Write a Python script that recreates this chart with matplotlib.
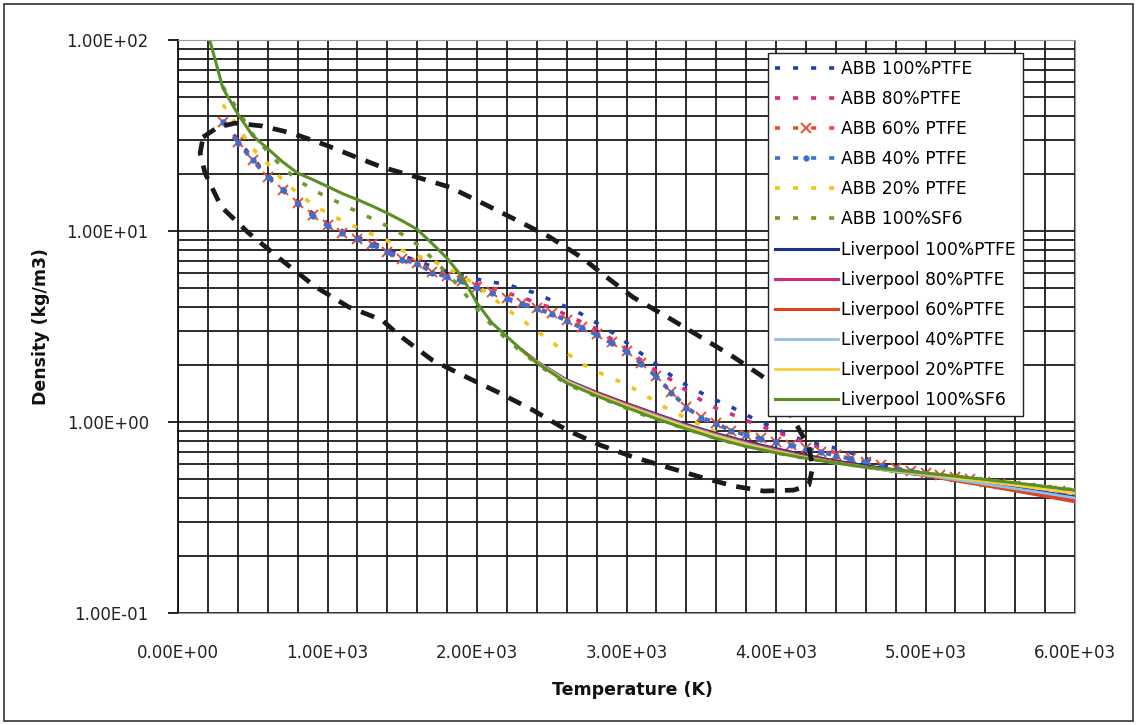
import matplotlib
matplotlib.use("Agg")
import matplotlib.pyplot as plt
from matplotlib.patches import Rectangle
from matplotlib.ticker import FixedLocator, NullFormatter

# ---------------- data ----------------
T_abb = [300, 400, 500, 600, 700, 800, 900, 1000, 1100, 1200, 1300, 1400, 1500, 1600, 1700, 1800,
         1900, 2000, 2100, 2200, 2300, 2400, 2500, 2600, 2700, 2800, 2900, 3000, 3100, 3200, 3300,
         3400, 3500, 3600, 3700, 3800, 3900, 4000, 4100, 4200, 4300, 4400, 4500, 4600, 4700, 4800,
         4900, 5000, 5100, 5200, 5300, 5400, 5500, 5600, 5700, 5800, 5900, 6000]

abb_100 = [38, 30, 24, 19.6, 16.7, 14.3, 12.4, 11.0, 10.0, 9.3, 8.7, 8.0, 7.4, 7.0, 6.5, 6.15,
           5.85, 5.6, 5.4, 5.25, 4.95, 4.72, 4.32, 4.0, 3.67, 3.3, 2.96, 2.6, 2.28, 2.0, 1.75,
           1.56, 1.42, 1.30, 1.20, 1.09, 1.0, 0.92, 0.85, 0.79, 0.76, 0.73, 0.69, 0.645, 0.60, 0.565,
           0.55, 0.535, 0.523, 0.511, 0.499, 0.487, 0.475, 0.464, 0.453, 0.442, 0.432, 0.422]
abb_80 = [37.5, 29.5, 23.6, 19.3, 16.5, 14.1, 12.2, 10.8, 9.85, 9.15, 8.55, 7.85, 7.2, 6.85, 6.25, 5.95,
          5.6, 5.3, 5.03, 4.73, 4.5, 4.2, 3.95, 3.63, 3.34, 3.07, 2.72, 2.42, 2.1, 1.85, 1.66,
          1.46, 1.30, 1.18, 1.10, 1.02, 0.95, 0.89, 0.83, 0.78, 0.73, 0.69, 0.645, 0.605, 0.575, 0.555,
          0.545, 0.535, 0.522, 0.510, 0.498, 0.486, 0.474, 0.462, 0.451, 0.440, 0.430, 0.420]
abb_60 = [37.2, 29.2, 23.5, 19.2, 16.4, 14.0, 12.1, 10.7, 9.8, 9.1, 8.5, 7.8, 7.1, 6.8, 6.1, 5.8,
          5.5, 5.1, 4.8, 4.46, 4.2, 3.95, 3.72, 3.42, 3.15, 2.9, 2.62, 2.36, 2.04, 1.74, 1.44,
          1.20, 1.06, 0.99, 0.90, 0.86, 0.82, 0.79, 0.76, 0.73, 0.70, 0.67, 0.645, 0.62, 0.595, 0.575,
          0.555, 0.54, 0.526, 0.513, 0.500, 0.488, 0.476, 0.465, 0.454, 0.443, 0.433, 0.423]
abb_40 = [37.0, 29.0, 23.4, 19.1, 16.3, 13.9, 12.0, 10.6, 9.75, 9.05, 8.45, 7.75, 7.05, 6.75, 6.05, 5.75,
          5.45, 5.05, 4.75, 4.42, 4.15, 3.9, 3.68, 3.38, 3.1, 2.86, 2.58, 2.33, 2.01, 1.72, 1.42,
          1.19, 1.05, 0.98, 0.895, 0.855, 0.815, 0.785, 0.755, 0.725, 0.695, 0.665, 0.64, 0.615, 0.59, 0.57,
          0.552, 0.537, 0.524, 0.511, 0.499, 0.487, 0.475, 0.464, 0.453, 0.442, 0.432, 0.422]
abb_20 = [46, 35, 27, 22.5, 18.5, 15.8, 13.8, 12.4, 11.3, 10.4, 9.6, 8.9, 7.9, 7.4, 7.0, 6.4,
          5.8, 5.2, 4.5, 3.9, 3.42, 3.0, 2.62, 2.3, 2.02, 1.84, 1.70, 1.57, 1.42, 1.27, 1.14,
          1.05, 0.96, 0.89, 0.83, 0.78, 0.745, 0.715, 0.69, 0.665, 0.645, 0.625, 0.605, 0.59, 0.575, 0.56,
          0.548, 0.536, 0.524, 0.512, 0.501, 0.490, 0.479, 0.468, 0.458, 0.448, 0.439, 0.430]
abb_sf6 = [57, 43, 32, 26, 21.5, 18.5, 16.5, 15.0, 13.8, 12.6, 11.6, 10.6, 9.6, 8.5, 7.2, 6.0,
           4.9, 3.9, 3.2, 2.7, 2.32, 2.02, 1.78, 1.58, 1.46, 1.36, 1.27, 1.18, 1.10, 1.03, 0.975,
           0.92, 0.87, 0.82, 0.78, 0.745, 0.715, 0.69, 0.665, 0.645, 0.627, 0.61, 0.595, 0.58, 0.57, 0.56,
           0.55, 0.54, 0.53, 0.52, 0.51, 0.50, 0.49, 0.48, 0.47, 0.46, 0.45, 0.44]

T_liv_sf6 = [200, 250, 300, 400, 500, 600, 700, 800, 900, 1000, 1100, 1200, 1300, 1400, 1500, 1600,
             1700, 1800, 1900, 2000, 2100, 2200, 2300, 2400, 2500, 2600, 2800, 3000, 3200, 3400, 3600,
             3800, 4000, 4200, 4400, 4600, 4800, 5000, 5200, 5400, 5600, 5800, 6000]
liv_sf6 = [108, 78, 56, 41, 31.5, 27, 23, 20.1, 18.6, 17.1, 15.7, 14.6, 13.5, 12.4, 11.3, 10.2,
           8.6, 7.2, 5.75, 4.2, 3.3, 2.8, 2.38, 2.04, 1.81, 1.60, 1.37, 1.19, 1.04, 0.92, 0.82,
           0.745, 0.69, 0.645, 0.61, 0.58, 0.56, 0.54, 0.52, 0.50, 0.48, 0.46, 0.44]

T_liv = [2300, 2400, 2600, 2800, 3000, 3200, 3400, 3600, 3800, 4000, 4200, 4400, 4600, 4800, 5000,
         5200, 5400, 5600, 5800, 6000]
liv_100 = [2.38, 2.07, 1.66, 1.43, 1.25, 1.10, 0.97, 0.87, 0.79, 0.725, 0.67, 0.625, 0.59, 0.56, 0.535,
           0.505, 0.478, 0.452, 0.428, 0.405]
liv_80 = [2.38, 2.07, 1.65, 1.42, 1.24, 1.09, 0.96, 0.86, 0.78, 0.715, 0.66, 0.618, 0.583, 0.553, 0.527,
          0.496, 0.467, 0.44, 0.413, 0.388]
liv_60 = [2.38, 2.06, 1.64, 1.41, 1.23, 1.08, 0.955, 0.855, 0.775, 0.71, 0.656, 0.614, 0.58, 0.55, 0.524,
          0.493, 0.464, 0.436, 0.408, 0.382]
liv_40 = [2.37, 2.06, 1.64, 1.40, 1.22, 1.075, 0.95, 0.85, 0.77, 0.705, 0.652, 0.61, 0.578, 0.549, 0.527,
          0.499, 0.473, 0.448, 0.424, 0.400]
liv_20 = [2.36, 2.05, 1.62, 1.39, 1.21, 1.06, 0.94, 0.84, 0.76, 0.70, 0.65, 0.61, 0.58, 0.555, 0.535,
          0.51, 0.488, 0.466, 0.444, 0.423]

# hand-drawn dashed loop (annotation) in data coordinates (T, density)
loop_T = [168, 269, 383, 558, 759, 988, 1189, 1364, 1592, 1814, 2036, 2264, 2486, 2708, 2822, 3044,
          3272, 3494, 3716, 3944, 4052, 4146, 4220, 4246, 4220, 4119, 3917, 3716, 3494, 3272, 3044,
          2822, 2600, 2372, 2150, 1928, 1700, 1478, 1364, 1142, 920, 692, 470, 289, 181, 148, 168]
loop_rho = [31.0, 35.1, 36.7, 35.5, 32.6, 28.2, 24.4, 21.6, 19.2, 17.0, 14.0, 11.4, 9.3, 7.2, 6.1, 4.5,
            3.55, 2.79, 2.19, 1.66, 1.26, 0.94, 0.74, 0.58, 0.468, 0.44, 0.435, 0.462, 0.515, 0.58, 0.656,
            0.758, 0.908, 1.156, 1.42, 1.72, 2.11, 2.85, 3.42, 4.0, 5.1, 7.05, 9.8, 13.4, 20.1, 25.6, 31.0]

x_ticks = [0, 1000, 2000, 3000, 4000, 5000, 6000]
x_ticklabels = ["0.00E+00", "1.00E+03", "2.00E+03", "3.00E+03", "4.00E+03", "5.00E+03", "6.00E+03"]
y_ticks = [0.1, 1, 10, 100]
y_ticklabels = ["1.00E-01", "1.00E+00", "1.00E+01", "1.00E+02"]

# ---------------- figure ----------------
plt.rcParams['font.family'] = ['DejaVu Sans']
fig = plt.figure(figsize=(11.38, 7.25), dpi=100)
fig.patch.set_facecolor('white')
ax = fig.add_axes([178/1138, 1 - 613/725, (1075-178)/1138, (613-40)/725])

ax.set_yscale('log')
ax.set_xlim(0, 6000)
ax.set_ylim(0.1, 100)

# grid
ax.xaxis.set_major_locator(FixedLocator(x_ticks))
ax.xaxis.set_minor_locator(FixedLocator([v for v in range(0, 6001, 200)]))
ax.yaxis.set_major_locator(FixedLocator(y_ticks))
minor_y = [m * d for d in (0.1, 1, 10) for m in range(2, 10)]
ax.yaxis.set_minor_locator(FixedLocator(minor_y))
ax.xaxis.set_minor_formatter(NullFormatter())
ax.yaxis.set_minor_formatter(NullFormatter())
ax.grid(True, which='both', color='#1a1a1a', linewidth=1.3)
ax.set_axisbelow(True)

ax.set_xticks(x_ticks)
ax.set_xticklabels(x_ticklabels, fontsize=12, color='#222')
ax.set_yticks(y_ticks)
ax.set_yticklabels(y_ticklabels, fontsize=12, color='#222')
ax.tick_params(axis='x', which='both', length=0, pad=22)
ax.tick_params(axis='y', which='major', length=7, width=1.2, direction='out', pad=14)
ax.tick_params(axis='y', which='minor', length=0)

for s in ['top', 'right', 'bottom']:
    ax.spines[s].set_color('#999999')
    ax.spines[s].set_linewidth(0.8)
ax.spines['left'].set_color('#111')
ax.spines['left'].set_linewidth(1.3)

ax.set_xlabel('Temperature (K)', fontsize=12.5, fontweight='bold', color='#111')
ax.set_ylabel('Density (kg/m3)', fontsize=12.5, fontweight='bold', color='#111')
ax.xaxis.set_label_coords((632-178)/897, (613-681)/573)
ax.yaxis.set_label_coords((50-178)/897, 0.5)

# ABB series (dashed)
dash = (0, (1.4, 3.6))
ax.plot(T_abb, abb_100, color='#1f3fb0', lw=2.6, linestyle=dash, label='ABB 100%PTFE')
ax.plot(T_abb, abb_80, color='#d42a80', lw=2.6, linestyle=dash, label='ABB 80%PTFE')
ax.plot(T_abb, abb_60, color='#e8502e', lw=2.6, linestyle=dash, marker='x', markersize=7,
        markeredgewidth=1.4, label='ABB 60% PTFE')
ax.plot(T_abb, abb_40, color='#3a6fd0', lw=2.6, linestyle=dash, marker='o', markersize=3.5,
        label='ABB 40% PTFE')
ax.plot(T_abb, abb_20, color='#f2c418', lw=2.6, linestyle=dash, label='ABB 20% PTFE')
ax.plot(T_abb, abb_sf6, color='#6e9a2c', lw=2.6, linestyle=dash, label='ABB 100%SF6')

# Liverpool series (solid)
ax.plot(T_liv, liv_100, color='#1c2f8c', lw=2.2, label='Liverpool 100%PTFE')
ax.plot(T_liv, liv_80, color='#d02a7c', lw=2.2, label='Liverpool 80%PTFE')
ax.plot(T_liv, liv_60, color='#e0431c', lw=2.2, label='Liverpool 60%PTFE')
ax.plot(T_liv, liv_40, color='#8cc0ea', lw=2.0, label='Liverpool 40%PTFE')
ax.plot(T_liv, liv_20, color='#f5d040', lw=2.0, label='Liverpool 20%PTFE')
ax.plot(T_liv_sf6, liv_sf6, color='#5a8f25', lw=2.2, label='Liverpool 100%SF6')

# dashed loop annotation
ax.plot(loop_T, loop_rho, color='#1a1a1a', lw=3.4, linestyle=(0, (3, 2.2)), zorder=5,
        solid_capstyle='butt', dash_capstyle='butt')

leg = ax.legend(loc='upper left', bbox_to_anchor=((768-178)/897, (613-53)/573),
                borderaxespad=0, fontsize=12.3, handlelength=3.7, handletextpad=0.2,
                labelspacing=0.71, borderpad=0.4, fancybox=False, framealpha=1,
                edgecolor='#222', frameon=True)
leg.get_frame().set_linewidth(1.0)
leg.set_zorder(10)

# outer chart border
fig.patches.append(Rectangle((4/1138, 4/725), 1 - 9/1138, 1 - 8/725, transform=fig.transFigure,
                             fill=False, edgecolor='#333', linewidth=1.2))

fig.savefig('out.png', dpi=100, facecolor='white')
